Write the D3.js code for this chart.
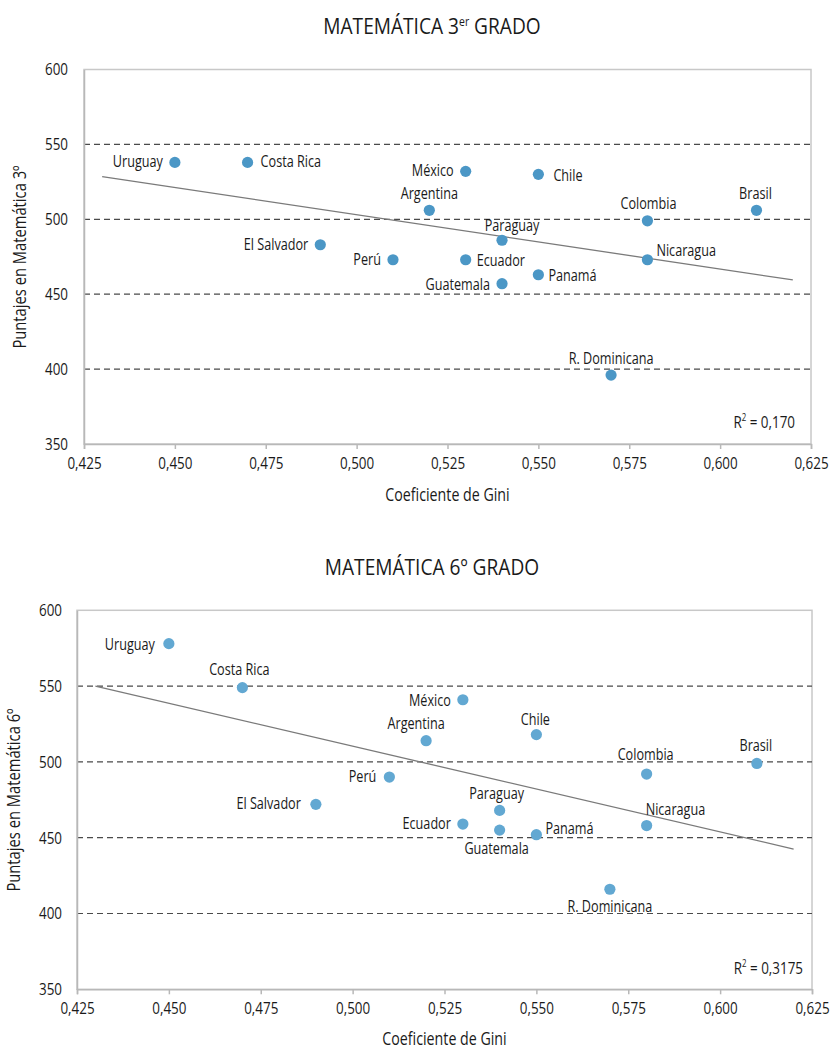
<!DOCTYPE html>
<html>
<head>
<meta charset="utf-8">
<script src="https://cdn.jsdelivr.net/npm/d3@7"></script>
<style>
  body { margin: 0; background: #fff; }
  svg text { font-family: "Open Sans", "DejaVu Sans Condensed", sans-serif; fill: #1a1a1a; }
</style>
</head>
<body>
<svg id="chart" width="831" height="1050"></svg>
<script>
// Countries (same order in both panels)
const countries = ['Uruguay', 'Costa Rica', 'El Salvador', 'Perú', 'México', 'Argentina', 'Ecuador',
  'Guatemala', 'Paraguay', 'Chile', 'Panamá', 'R. Dominicana', 'Colombia', 'Nicaragua', 'Brasil'];

// Gini coefficient per country
const gini = [0.45, 0.47, 0.49, 0.51, 0.53, 0.52, 0.53, 0.54, 0.54, 0.55, 0.55, 0.57, 0.58, 0.58, 0.61];

// Scores
const math3 = [538, 538, 483, 473, 532, 506, 473, 457, 486, 530, 463, 396, 499, 473, 506];
const math6 = [578, 549, 472, 490, 541, 514, 459, 455, 468, 518, 452, 416, 492, 458, 499];

// Trend line end points (x, then y for each panel)
const trendX = [0.43, 0.62];
const trend3 = [528.5, 459.5];
const trend6 = [550, 442.5];

const r2Labels = ['0,170', '0,3175'];

const xTicks = [0.425, 0.45, 0.475, 0.5, 0.525, 0.55, 0.575, 0.6, 0.625];
const yTicks = [350, 400, 450, 500, 550, 600];
const gridValues = [400, 450, 500, 550];

const locale = d3.formatLocale({ decimal: ',', thousands: '.', grouping: [3], currency: ['', ''] });
const fmt = locale.format('.3f');

const SX = 0.79; // horizontal squeeze to mimic the condensed face
const svg = d3.select('#chart');

// text helper: condensed look via horizontal scale
function txt(parent, x, y, anchor, size, sx, rot) {
  return parent.append('text')
    .attr('transform', `translate(${x},${y})${rot ? ' rotate(' + rot + ')' : ''} scale(${sx},1)`)
    .attr('text-anchor', anchor)
    .style('font-size', size + 'px');
}

// label placement per country: [anchor, dx, dy]
const place3 = {
  'Uruguay': ['end', -12, 5], 'Costa Rica': ['start', 13, 5], 'El Salvador': ['end', -12, 5],
  'Perú': ['end', -12, 5], 'México': ['end', -12, 5], 'Argentina': ['middle', 0, -11],
  'Ecuador': ['start', 11, 6], 'Guatemala': ['end', -12, 6], 'Paraguay': ['middle', 10, -9],
  'Chile': ['start', 15, 7], 'Panamá': ['start', 10, 6], 'R. Dominicana': ['middle', 0, -11],
  'Colombia': ['middle', 1, -12], 'Nicaragua': ['start', 9, -4], 'Brasil': ['middle', -1, -11]
};
const place6 = {
  'Uruguay': ['end', -14, 6], 'Costa Rica': ['middle', -3, -13], 'El Salvador': ['end', -15, 5],
  'Perú': ['end', -13, 5], 'México': ['end', -12, 6], 'Argentina': ['middle', -10, -12],
  'Ecuador': ['end', -12, 5], 'Guatemala': ['middle', -3, 24], 'Paraguay': ['middle', -3, -11],
  'Chile': ['middle', -1, -10], 'Panamá': ['start', 9, -1], 'R. Dominicana': ['middle', 0, 23],
  'Colombia': ['middle', -1, -14], 'Nicaragua': ['start', -1, -11], 'Brasil': ['middle', -1, -12]
};

function drawPanel(cfg) {
  const x = d3.scaleLinear().domain([0.425, 0.625]).range([cfg.left, cfg.right]);
  const y = d3.scaleLinear().domain([350, 600]).range([cfg.bottom, cfg.top]);
  const g = svg.append('g');

  // title
  const title = txt(g, 432, cfg.titleY, 'middle', 22, 0.87);
  title.append('tspan').text(cfg.titleA);
  if (cfg.titleSup) {
    title.append('tspan').attr('dy', -8).style('font-size', '12px').text(cfg.titleSup);
    title.append('tspan').attr('dy', 8).text(' ' + cfg.titleB);
  } else {
    title.append('tspan').text(cfg.titleB);
  }

  // frame
  g.append('rect')
    .attr('x', cfg.left).attr('y', cfg.top)
    .attr('width', cfg.right - cfg.left).attr('height', cfg.bottom - cfg.top)
    .attr('fill', 'none').attr('stroke', '#c8c8c8').attr('stroke-width', 1.5);

  // dashed gridlines
  g.selectAll('.grid').data(gridValues).enter().append('line')
    .attr('x1', cfg.left).attr('x2', cfg.right)
    .attr('y1', d => y(d)).attr('y2', d => y(d))
    .attr('stroke', '#4a4a4a').attr('stroke-width', 1.2)
    .attr('stroke-dasharray', '6,4');

  // x axis
  const xAxis = g.append('g')
    .attr('transform', `translate(0,${cfg.bottom})`)
    .call(d3.axisBottom(x).tickValues(xTicks).tickFormat(fmt).tickSize(5).tickPadding(8));
  xAxis.attr('font-family', null).attr('font-size', null);
  xAxis.select('.domain').attr('stroke', '#b8b8b8').attr('stroke-width', 1.5);
  xAxis.selectAll('.tick line').attr('stroke', '#b8b8b8').attr('stroke-width', 1.5);
  xAxis.selectAll('.tick text').style('font-size', '17px').attr('fill', '#1a1a1a')
    .attr('transform', `scale(${SX},1)`);

  // y axis
  const yAxis = g.append('g')
    .attr('transform', `translate(${cfg.left},0)`)
    .call(d3.axisLeft(y).tickValues(yTicks).tickSize(0).tickPadding(cfg.yPad));
  yAxis.attr('font-family', null).attr('font-size', null);
  yAxis.select('.domain').attr('stroke', '#b8b8b8').attr('stroke-width', 1.5);
  yAxis.selectAll('.tick text').style('font-size', '17px').attr('fill', '#1a1a1a')
    .attr('x', -cfg.yPad / SX)
    .attr('transform', `scale(${SX},1)`);

  // axis titles
  txt(g, (cfg.left + cfg.right) / 2, cfg.xTitleY, 'middle', 18, SX).text('Coeficiente de Gini');
  txt(g, cfg.yTitleX, cfg.yTitleCY, 'middle', 18, 0.82, -90).text(cfg.yTitle);

  // trend line
  g.append('line')
    .attr('x1', x(trendX[0])).attr('x2', x(trendX[1]))
    .attr('y1', y(cfg.trend[0])).attr('y2', y(cfg.trend[1]))
    .attr('stroke', '#7a7a7a').attr('stroke-width', 1.3);

  // points
  const pts = countries.map((c, i) => ({ c, gx: gini[i], v: cfg.values[i] }));
  g.selectAll('.dot').data(pts).enter().append('circle')
    .attr('cx', d => x(d.gx)).attr('cy', d => y(d.v))
    .attr('r', 5.6).attr('fill', cfg.color);

  pts.forEach(d => {
    const p = cfg.place[d.c];
    txt(g, x(d.gx) + p[1], y(d.v) + p[2], p[0], 16, SX).text(d.c);
  });

  // R squared
  const r2 = txt(g, cfg.r2X, cfg.r2Y, 'end', 17, SX);
  r2.append('tspan').text('R');
  r2.append('tspan').attr('dy', -7).style('font-size', '10px').text('2');
  r2.append('tspan').attr('dy', 7).text(' = ' + cfg.r2);
}

drawPanel({
  left: 84, right: 811, top: 69.5, bottom: 444,
  titleY: 34, titleA: 'MATEMÁTICA 3', titleSup: 'er', titleB: 'GRADO',
  yPad: 16, xTitleY: 501, yTitleX: 26, yTitleCY: 257,
  yTitle: 'Puntajes en Matemática 3º',
  values: math3, trend: trend3, color: '#4b97c6', place: place3,
  r2: r2Labels[0], r2X: 795, r2Y: 428
});

drawPanel({
  left: 77, right: 812, top: 610.3, bottom: 989.3,
  titleY: 575, titleA: 'MATEMÁTICA 6º ', titleSup: null, titleB: 'GRADO',
  yPad: 15, xTitleY: 1045, yTitleX: 20, yTitleCY: 800,
  yTitle: 'Puntajes en Matemática 6º',
  values: math6, trend: trend6, color: '#62a8d2', place: place6,
  r2: r2Labels[1], r2X: 803, r2Y: 974
});
</script>
</body>
</html>
